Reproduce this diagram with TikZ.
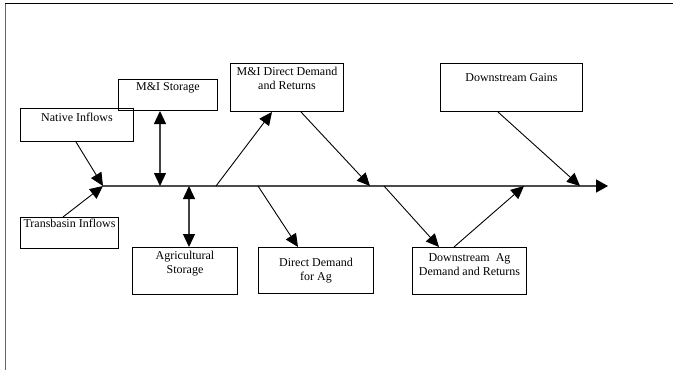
\documentclass[tikz,border=0pt]{standalone}
\usepackage{fontspec}
\setmainfont{Liberation Serif}
\usetikzlibrary{arrows.meta,calc}
\newcommand\boxtext[4]{\parbox[c][#2pt][t]{#1pt}{\fontsize{12}{14}\selectfont\centering\vspace*{#3pt}#4\par}}
\begin{document}
\begin{tikzpicture}[x=1pt,y=-1pt,
  box/.style={draw=black, line width=1pt, inner sep=0pt, anchor=north west},
  arr/.style={line width=0.9pt, -{Triangle[length=13pt,width=12pt]}},
  darr/.style={line width=1.3pt, draw=black!75, {Triangle[length=13pt,width=12pt,color=black]}-{Triangle[length=13pt,width=12pt,color=black]}},
  mainline/.style={line width=1.5pt, draw=black!70, -{Triangle[length=12pt,width=13pt,color=black]}}]
\useasboundingbox (0,0) rectangle (673,370);
\draw[line width=1pt, black!60] (5,370) -- (5,3);
\draw[line width=1pt] (5,3) -- (673,3);
% boxes
\node[box] (ni)  at (20,108)  {\boxtext{113}{33}{4.8}{Native Inflows}};
\node[box] (mis) at (118,79)  {\boxtext{99}{31}{2.8}{M\&I Storage}};
\node[box] (tb)  at (20,217)  {\boxtext{98}{31}{1.8}{Transbasin Inflows}};
\node[box] (ags) at (132,247) {\boxtext{105}{47}{3.8}{Agricultural\\Storage}};
\node[box] (mid) at (230,63)  {\boxtext{113}{48}{3.8}{M\&I Direct Demand\\and Returns}};
\node[box] (dda) at (258,247) {\boxtext{115}{46}{10.8}{Direct Demand\\for Ag}};
\node[box] (dag) at (412,247) {\boxtext{114}{47}{5.8}{Downstream\ \ Ag\\Demand and Returns}};
\node[box] (dg)  at (440,63)  {\boxtext{142}{48}{9.8}{Downstream Gains}};
% main line points
\coordinate (ms) at (103,186);
\coordinate (me) at (608,186);
\coordinate (p1) at (160,186);
\coordinate (p2) at (189,186);
\coordinate (p3) at (216,186);
\coordinate (p4) at (258,186);
\coordinate (p5) at (370,186);
\coordinate (p6) at (384,186);
\coordinate (p7) at (524,186);
\coordinate (p8) at (580,186);
\draw[mainline] (ms) -- (me);
% connectors
\draw[arr] ($(ni.south west)+(56,0)$) -- (ms);
\draw[arr] ($(tb.north west)+(43,0)$) -- (ms);
\draw[darr] (mis.south -| p1) -- (p1);
\draw[darr] (p2) -- (ags.north -| p2);
\draw[arr] (p3) -- ($(mid.south west)+(42,0)$);
\draw[arr] ($(mid.south west)+(71,0)$) -- (p5);
\draw[arr] (p4) -- ($(dda.north west)+(40,0)$);
\draw[arr] (p6) -- ($(dag.north west)+(27,0)$);
\draw[arr] ($(dag.north west)+(42,0)$) -- (p7);
\draw[arr] ($(dg.south west)+(58,0)$) -- (p8);
\end{tikzpicture}
\end{document}
